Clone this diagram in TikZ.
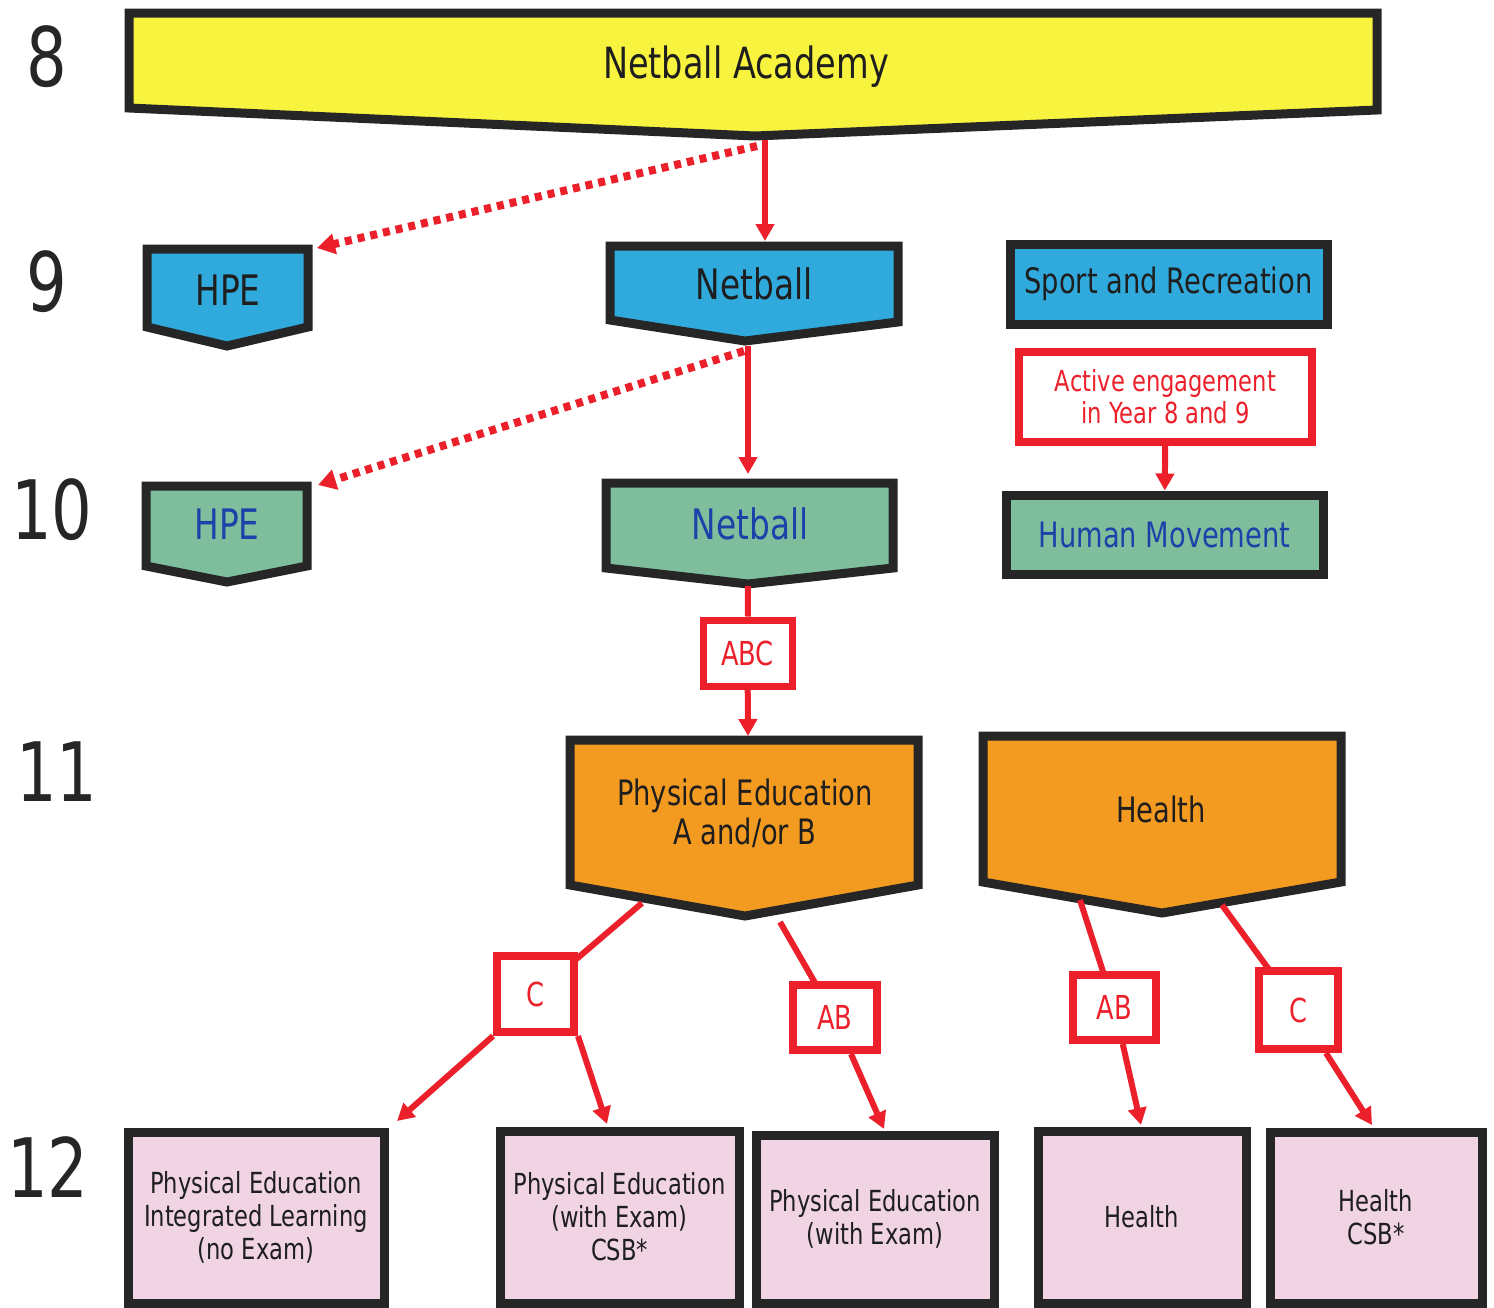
\documentclass[tikz,border=0pt]{standalone}
\usepackage{fontspec}
\setmainfont[FakeStretch=0.78]{DejaVu Sans}
\usetikzlibrary{arrows.meta}
\definecolor{bord}{RGB}{38,38,38}
\definecolor{yelc}{RGB}{248,243,62}
\definecolor{bluec}{RGB}{48,170,220}
\definecolor{greenc}{RGB}{126,190,156}
\definecolor{orc}{RGB}{243,154,32}
\definecolor{pinkc}{RGB}{240,212,228}
\definecolor{redc}{RGB}{236,32,42}
\definecolor{txtc}{RGB}{30,30,30}
\definecolor{btxt}{RGB}{28,66,170}
\newcommand\fsz[2]{\fontsize{#1}{#2}\selectfont}
\tikzset{
 shp/.style={draw=bord, line width=9pt, line join=miter},
 rbox/.style={draw=redc, line width=8pt, fill=white, text=redc, inner sep=0pt, align=center},
 gbox/.style={shp, inner sep=0pt, align=center},
 pbox/.style={shp, fill=pinkc, text=txtc, inner sep=0pt, align=center, font=\fsz{29}{33}},
 lbl/.style={inner sep=0pt, align=center, text=txtc},
 yr/.style={inner sep=0pt, text=bord, font=\fsz{82}{82}},
 con/.style={draw=redc, line width=6pt, -{Triangle[length=17pt,width=18pt]}},
 conn/.style={draw=redc, line width=6pt},
 dsh/.style={draw=redc, line width=8pt, dash pattern=on 7pt off 6pt, -{Triangle[length=18pt,width=20pt]}},
}
\begin{document}
\begin{tikzpicture}[x=1pt,y=-1pt]
\clip (0,0) rectangle (1494,1307);
\fill[white] (0,0) rectangle (1494,1307);

% year labels
\node[yr] (y8) at (47,57) {8};
\node[yr] (y9) at (47,282) {9};
\node[yr] (y10) at (52,510) {10};
\node[yr] (y11) at (57,772) {11};
\node[yr] (y12) at (48,1167) {12};

% pentagon shapes
\draw[shp, fill=yelc] (129,13) -- (1377,13) -- (1377,110) -- (755,136) -- (129,108) -- cycle;
\node[lbl, font=\fsz{43}{48}] (acad) at (746,67) {Netball Academy};

\draw[shp, fill=bluec] (147,249) -- (308,249) -- (308,327) -- (227,346) -- (147,327) -- cycle;
\node[lbl, font=\fsz{42}{46}] (hpe9) at (228,290) {HPE};

\draw[shp, fill=bluec] (610,246) -- (898,246) -- (898,322) -- (745,341) -- (610,320) -- cycle;
\node[lbl, font=\fsz{42}{46}] (net9) at (754,284) {Netball};

\draw[shp, fill=greenc] (146,486) -- (307,486) -- (307,566) -- (227,582) -- (146,566) -- cycle;
\node[lbl, font=\fsz{42}{46}, text=btxt] (hpe10) at (227,524) {HPE};

\draw[shp, fill=greenc] (606,483) -- (893,483) -- (893,568) -- (748,584) -- (606,568) -- cycle;
\node[lbl, font=\fsz{42}{46}, text=btxt] (net10) at (750,524) {Netball};

\draw[shp, fill=orc] (570,740) -- (918,740) -- (918,885) -- (745,916) -- (570,885) -- cycle;
\node[lbl, font=\fsz{35}{39}] (pe11) at (745,813) {Physical Education\\A and/or B};

\draw[shp, fill=orc] (983,736) -- (1341,736) -- (1341,882) -- (1162,913) -- (983,882) -- cycle;
\node[lbl, font=\fsz{35}{39}] (hl11) at (1161,809) {Health};

% rectangles
\node[gbox, fill=bluec, text=txtc, minimum width=317pt, minimum height=80pt, font=\fsz{35}{39}] (sport) at (1168.5,284) {Sport and Recreation};
\node[rbox, minimum width=293pt, minimum height=90pt, font=\fsz{29}{32}] (active) at (1165.5,397) {Active engagement\\in Year 8 and 9};
\node[gbox, fill=greenc, text=btxt, minimum width=317pt, minimum height=79pt, font=\fsz{35}{39}] (hm) at (1164.5,534.5) {Human Movement};

% connection points
\coordinate (acadA) at (765,140);
\coordinate (acadD) at (757,146);
\coordinate (net9T) at (765,241);
\coordinate (hpe9T) at (317,248);
\coordinate (net9A) at (748,346);
\coordinate (net9D) at (744,351);
\coordinate (net10T) at (748,474);
\coordinate (hpe10T) at (318,485);
\coordinate (net10B) at (748,586);
\coordinate (pe11T) at (748,736);
\coordinate (pe11L) at (642,903);
\coordinate (pe11R) at (780,922);
\coordinate (hl11L) at (1080,900);
\coordinate (hl11R) at (1222,905);
\coordinate (b1T) at (397,1121);
\coordinate (b2T) at (607,1124);
\coordinate (b3T) at (884,1129);
\coordinate (b4T) at (1141,1125);
\coordinate (b5T) at (1372,1125);

% connectors level 8-10
\draw[dsh] (acadD) -- (hpe9T);
\draw[con] (acadA) -- (net9T);
\draw[dsh] (net9D) -- (hpe10T);
\draw[con] (net9A) -- (net10T);
\draw[con] (active) -- (hm);

% ABC
\node[rbox, line width=7pt, minimum width=89pt, minimum height=66pt, font=\fsz{33}{36}] (abc) at (747.5,653) {ABC};
\draw[conn] (net10B) -- (abc);
\draw[con] (abc) -- (pe11T);

% lower connectors (drawn first, boxes over them)
\draw[conn] (pe11L) -- (535.5,994);
\draw[conn] (pe11R) -- (835,1017.5);
\draw[conn] (hl11L) -- (1114.5,1007.5);
\draw[conn] (hl11R) -- (1298.5,1010);

\node[rbox, minimum width=77pt, minimum height=76pt, font=\fsz{33}{36}] (c1) at (535.5,994) {C};
\node[rbox, minimum width=84pt, minimum height=65pt, font=\fsz{33}{36}] (ab1) at (835,1017.5) {AB};
\node[rbox, minimum width=83pt, minimum height=65pt, font=\fsz{33}{36}] (ab2) at (1114.5,1007.5) {AB};
\node[rbox, minimum width=79pt, minimum height=78pt, font=\fsz{33}{36}] (c2) at (1298.5,1010) {C};

\draw[con] (c1.south west) -- (b1T);
\draw[con] (c1.south east) -- (b2T);
\draw[con] (ab1) -- (b3T);
\draw[con] (ab2) -- (b4T);
\draw[con] (c2) -- (b5T);

% year 12 boxes
\node[pbox, minimum width=256pt, minimum height=171pt] (b1) at (256,1217.5) {Physical Education\\Integrated Learning\\(no Exam)};
\node[pbox, minimum width=239pt, minimum height=172pt] (b2) at (619.5,1217) {Physical Education\\(with Exam)\\CSB*};
\node[pbox, minimum width=238pt, minimum height=168pt] (b3) at (875,1219) {Physical Education\\(with Exam)};
\node[pbox, minimum width=208pt, minimum height=172pt] (b4) at (1142,1217) {Health};
\node[pbox, minimum width=212pt, minimum height=171pt] (b5) at (1376,1217.5) {Health\\CSB*};
\end{tikzpicture}
\end{document}
